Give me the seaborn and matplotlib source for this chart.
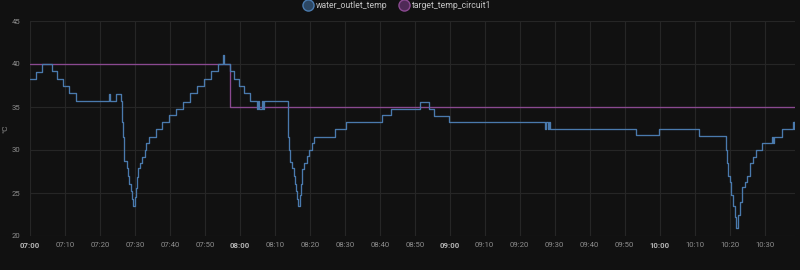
import matplotlib
matplotlib.use("Agg")
import matplotlib.pyplot as plt
from matplotlib.lines import Line2D
import seaborn as sns
import pandas as pd

# ---- data (minutes after 07:00, °C) ----
water_minutes = [0, 1.6, 3.3, 6.4, 7.8, 9.4, 11.1, 13.1, 22.6, 23.0, 24.5, 26.1,
                 26.2, 26.4, 26.6, 26.8, 27.0, 27.6, 28.0, 28.4, 28.8, 29.2, 29.5,
                 30.0, 30.3, 30.6, 31.0, 31.4, 32.1, 32.9, 33.3, 34.1, 36.0, 37.8,
                 39.8, 41.7, 43.6, 45.6, 47.8, 49.7, 51.8, 53.7, 55.2, 55.6, 57.1,
                 58.3, 59.7, 61.1, 62.8, 64.8, 65.2, 65.5, 66.4, 66.7, 67.0, 73.5,
                 73.7, 73.9, 74.1, 74.4, 75.0, 75.4, 75.8, 76.1, 76.4, 76.7, 77.3,
                 77.5, 77.8, 78.3, 79.1, 79.8, 80.5, 81.1, 87.1, 90.3, 100.5, 103.3,
                 111.6, 114.2, 115.4, 119.7, 147.3, 147.6, 148.0, 148.4, 148.8, 173.3,
                 179.7, 191.3, 199.0, 199.3, 199.6, 200.0, 200.5, 201.0, 201.5, 201.9,
                 202.5, 203.0, 203.6, 204.3, 204.9, 205.9, 206.6, 207.5, 209.3, 212.1,
                 212.4, 212.7, 215.0, 218.1, 218.3, 218.5, 218.7]
water_values = [38.3, 39.1, 40.0, 39.2, 38.3, 37.5, 36.6, 35.7, 36.5, 35.7, 36.5, 35.7,
                34.8, 33.2, 31.5, 30.0, 28.7, 27.9, 27.0, 26.1, 25.2, 24.3, 23.5,
                24.5, 25.6, 26.9, 27.9, 28.5, 29.2, 30.0, 30.8, 31.5, 32.4, 33.2,
                34.1, 34.8, 35.6, 36.6, 37.4, 38.3, 39.2, 40.0, 41.0, 40.0, 39.2,
                38.3, 37.5, 36.6, 35.7, 34.8, 35.7, 34.8, 35.7, 34.8, 35.7, 35.7,
                33.2, 31.5, 30.0, 28.6, 27.9, 27.0, 26.1, 25.2, 24.3, 23.5, 24.8,
                26.1, 27.8, 28.5, 29.3, 30.0, 30.8, 31.5, 32.4, 33.2, 34.1, 34.8,
                35.6, 34.8, 34.0, 33.2, 32.4, 33.2, 32.4, 33.2, 32.4, 31.7,
                32.4, 31.6, 30.0, 28.5, 27.0, 26.3, 24.8, 23.5, 22.2, 20.9,
                22.5, 24.0, 25.7, 26.3, 27.0, 28.5, 29.2, 30.0, 30.8, 31.5,
                30.8, 31.5, 32.4, 33.2, 32.4, 33.2, 33.2]

target_minutes = [0, 57.1, 218.7]
target_values = [40.0, 35.0, 35.0]

series_names = ["water_outlet_temp", "target_temp_circuit1"]
x_ticks = list(range(0, 220, 10))
x_tick_labels = ["07:00", "07:10", "07:20", "07:30", "07:40", "07:50", "08:00",
                 "08:10", "08:20", "08:30", "08:40", "08:50", "09:00", "09:10",
                 "09:20", "09:30", "09:40", "09:50", "10:00", "10:10", "10:20", "10:30"]
y_ticks = [20, 25, 30, 35, 40, 45]

df = pd.concat([
    pd.DataFrame({"t": water_minutes, "v": water_values, "s": series_names[0]}),
    pd.DataFrame({"t": target_minutes, "v": target_values, "s": series_names[1]}),
])

BG = "#111111"
GRID = "#262626"
TXT = "#8e8e8e"
BLUE = "#4a7aad"
PURPLE = "#8a4990"

sns.set_theme(style="dark")
plt.rcParams["font.family"] = ["Roboto", "DejaVu Sans"]

fig = plt.figure(figsize=(8, 2.7), dpi=100, facecolor=BG)
ax = fig.add_axes([30 / 800, 1 - 236 / 270, 765 / 800, 215 / 270])
ax.set_facecolor(BG)

sns.lineplot(data=df, x="t", y="v", hue="s", palette={series_names[0]: BLUE, series_names[1]: PURPLE},
             hue_order=[series_names[1], series_names[0]],
             estimator=None, sort=False, drawstyle="steps-post", linewidth=0.95,
             legend=False, ax=ax)

ax.set_xlim(0, 218.7)
ax.set_ylim(20, 45)
ax.set_xticks(x_ticks)
ax.set_xticklabels(x_tick_labels)
ax.set_yticks(y_ticks)
ax.set_xlabel("")
ax.set_ylabel("°C", color=TXT, fontsize=6)
ax.yaxis.set_label_coords(-22 / 765, 0.5)
ax.grid(True, color=GRID, linewidth=0.8)
for sp in ax.spines.values():
    sp.set_visible(False)
ax.tick_params(axis="both", length=0, colors=TXT, labelsize=5.6, pad=4)
ax.tick_params(axis="y", pad=7)
for lab in ax.get_xticklabels():
    if lab.get_text().endswith(":00"):
        lab.set_fontweight("bold")
        lab.set_color("#b5b5b5")

handles = [
    Line2D([], [], linestyle="none", marker="o", markersize=8, markerfacecolor="#2c4763",
           markeredgecolor=BLUE, markeredgewidth=1.0),
    Line2D([], [], linestyle="none", marker="o", markersize=8, markerfacecolor="#4f2a57",
           markeredgecolor=PURPLE, markeredgewidth=1.0),
]
leg = fig.legend(handles, series_names, loc="upper center", bbox_to_anchor=(0.497, 1.025),
                 ncol=2, frameon=False, fontsize=6.2, handletextpad=0.35, columnspacing=1.5,
                 handlelength=1.0)
for t in leg.get_texts():
    t.set_color("#c4c4c4")

fig.savefig("out.png", dpi=100, facecolor=BG)
